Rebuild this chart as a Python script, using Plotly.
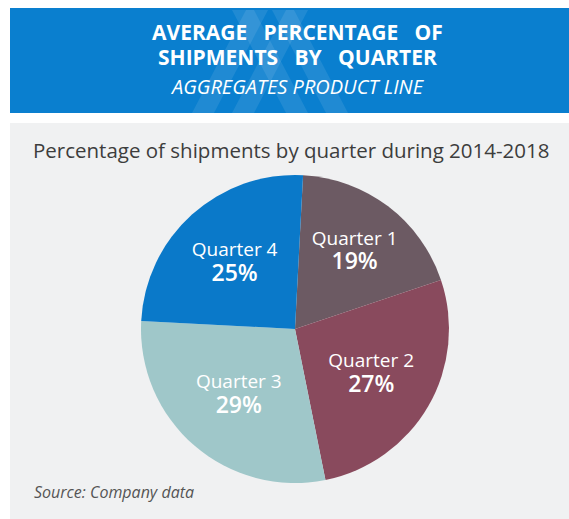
import plotly.graph_objects as go

# data
quarters = ["Quarter 1", "Quarter 2", "Quarter 3", "Quarter 4"]
shares = [19, 27, 29, 25]
slice_colors = ["#6c5a63", "#894a5d", "#9fc7c9", "#0a79c9"]

W, H = 569, 519

fig = go.Figure()

fig.add_trace(go.Pie(
    labels=quarters,
    values=shares,
    sort=False,
    direction="clockwise",
    rotation=3,
    marker=dict(colors=slice_colors, line=dict(width=0)),
    texttemplate="%{label}<br><span style='font-size:23px;font-weight:600'>%{value}%</span>",
    textposition="inside",
    insidetextorientation="horizontal",
    insidetextfont=dict(family="Open Sans", size=19, color="white"),
    domain=dict(x=[141 / W, 449 / W], y=[1 - 483 / H, 1 - 175 / H]),
    showlegend=False,
    hoverinfo="label+percent",
))


def px_path(pts):
    return "M " + " L ".join(f"{px / W},{1 - py / H}" for px, py in pts) + " Z"


shapes = [
    # grey panel
    dict(type="rect", xref="paper", yref="paper", x0=10 / W, x1=1, y0=0, y1=1 - 123 / H,
         fillcolor="#f0f1f2", line=dict(width=0), layer="below"),
    # blue banner
    dict(type="rect", xref="paper", yref="paper", x0=10 / W, x1=1, y0=1 - 113 / H, y1=1 - 8 / H,
         fillcolor="#0a7fcf", line=dict(width=0), layer="below"),
]

# faint mountain-logo watermark in the banner (two inverted Vs)
for ax in (250, 290):
    stroke = 22
    left = [(ax - 58, 113), (ax - 4, 10), (ax - 4 + stroke, 10), (ax - 58 + stroke, 113)]
    right = [(ax + 4 - stroke, 10), (ax + 4, 10), (ax + 58, 113), (ax + 58 - stroke, 113)]
    for pts in (left, right):
        shapes.append(dict(type="path", xref="paper", yref="paper", path=px_path(pts),
                           fillcolor="rgba(255,255,255,0.09)", line=dict(width=0),
                           layer="below"))

annotations = [
    dict(text="<b>AVERAGE&nbsp;&nbsp; PERCENTAGE&nbsp;&nbsp; OF</b>", y=1 - 32 / H, size=21),
    dict(text="<b>SHIPMENTS&nbsp;&nbsp; BY&nbsp;&nbsp; QUARTER</b>", y=1 - 57 / H, size=21),
    dict(text="<i>AGGREGATES PRODUCT LINE</i>", y=1 - 87 / H, size=20),
]
for a in annotations:
    size = a.pop("size")
    a.update(x=297 / W, xref="paper", yref="paper", showarrow=False, xanchor="center",
             yanchor="middle", font=dict(family="Open Sans", size=size, color="white"))

annotations.append(dict(
    text="Percentage of shipments by quarter during 2014-2018",
    x=291 / W, y=1 - 150 / H, xref="paper", yref="paper", showarrow=False,
    xanchor="center", yanchor="middle",
    font=dict(family="Open Sans", size=20.5, color="#3d3d3d"),
))
annotations.append(dict(
    text="<i>Source: Company data</i>",
    x=32 / W, y=1 - 492 / H, xref="paper", yref="paper", showarrow=False,
    xanchor="left", yanchor="middle",
    font=dict(family="Open Sans", size=16, color="#555555"),
))

fig.update_layout(
    width=W, height=H,
    margin=dict(l=0, r=0, t=0, b=0),
    paper_bgcolor="white",
    plot_bgcolor="white",
    shapes=shapes,
    annotations=annotations,
)

fig.write_html("out.html", config={"displayModeBar": False},
               post_script="document.body.style.margin = '0';")
